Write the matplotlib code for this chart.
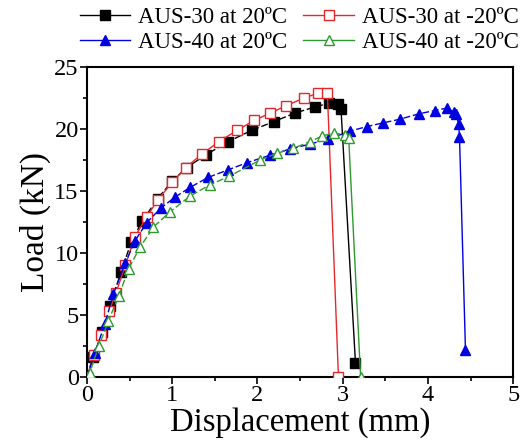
import numpy as np
import matplotlib
matplotlib.use('Agg')
import matplotlib.pyplot as plt
from matplotlib.lines import Line2D
from matplotlib.ticker import MultipleLocator

# AUS-30 at 20 C (black filled squares)
aus30_20_x = [0, 0.07, 0.18, 0.27, 0.40, 0.52, 0.65, 0.83, 1.00, 1.17, 1.40, 1.66, 1.93,
              2.19, 2.44, 2.68, 2.84, 2.95, 2.98, 3.15]
aus30_20_y = [0, 1.6, 3.6, 5.7, 8.5, 10.9, 12.6, 14.4, 15.8, 16.9, 17.95, 19.0, 19.9,
              20.6, 21.3, 21.8, 22.1, 22.05, 21.6, 1.1]

# AUS-30 at -20 C (red open squares)
aus30_m20_x = [0, 0.08, 0.17, 0.26, 0.34, 0.45, 0.56, 0.70, 0.83, 1.00, 1.16, 1.35, 1.55,
               1.76, 1.96, 2.15, 2.34, 2.54, 2.71, 2.82, 2.95]
aus30_m20_y = [0, 1.8, 3.4, 5.3, 6.8, 9.0, 11.3, 12.9, 14.3, 15.7, 16.9, 18.0, 19.0,
               19.9, 20.7, 21.3, 21.9, 22.5, 22.9, 22.95, 0]

# AUS-40 at 20 C (blue filled triangles)
aus40_20_x = [0, 0.09, 0.21, 0.31, 0.45, 0.56, 0.70, 0.87, 1.03, 1.21, 1.42, 1.65, 1.88,
              2.15, 2.38, 2.62, 2.83, 3.09, 3.28, 3.47, 3.67, 3.90, 4.08, 4.22, 4.30,
              4.33, 4.36, 4.37, 4.44]
aus40_20_y = [0, 1.9, 4.3, 6.7, 9.2, 10.95, 12.45, 13.65, 14.5, 15.3, 16.1, 16.7, 17.3,
              17.9, 18.4, 18.8, 19.2, 19.85, 20.2, 20.5, 20.8, 21.25, 21.5, 21.7, 21.4,
              21.2, 20.4, 19.4, 2.2]

# AUS-40 at -20 C (green open triangles)
aus40_m20_x = [0, 0.03, 0.14, 0.25, 0.37, 0.49, 0.62, 0.78, 0.97, 1.21, 1.44, 1.67, 2.03,
               2.23, 2.42, 2.62, 2.76, 2.90, 3.03, 3.07, 3.21]
aus40_m20_y = [0, 0.3, 2.5, 4.5, 6.5, 8.75, 10.45, 12.1, 13.3, 14.6, 15.5, 16.2, 17.5,
               18.05, 18.45, 19.0, 19.45, 19.7, 19.5, 19.3, 0]

labels = ['AUS-30 at 20ºC', 'AUS-30 at -20ºC', 'AUS-40 at 20ºC', 'AUS-40 at -20ºC']

plt.rcParams['font.family'] = ['Liberation Serif', 'DejaVu Serif']

fig = plt.figure(figsize=(5.21, 4.45), dpi=100)
ax = fig.add_axes([0.167, 0.153, 0.818, 0.696])

series = [
    (aus30_20_x, aus30_20_y, 'black', 's', 'black', (0, (5, 2)), 6.5),
    (aus30_m20_x, aus30_m20_y, '#e8262a', 's', 'white', '-', 6.5),
    (aus40_20_x, aus40_20_y, '#0000e0', '^', '#0000e0', (0, (5, 2)), 7.5),
    (aus40_m20_x, aus40_m20_y, '#2e9a2e', '^', 'white', (0, (5, 2)), 7.5),
]

handles = []
for i, ((x, y, c, mk, fc, ls, ms), lab) in enumerate(zip(series, labels)):
    z = 2 + i
    # loading branch dashed, final failure drop drawn solid, markers on top
    ax.plot(x[-2:], y[-2:], color=c, lw=1, ls='-', zorder=z)
    ax.plot(x[:-1], y[:-1], color=c, lw=1, ls=ls, zorder=z)
    ax.plot(x, y, color=c, lw=1, ls='none', marker=mk, ms=ms, mfc=fc, mec=c, mew=1,
            zorder=z + 0.5)
    handles.append(Line2D([], [], color=c, lw=1, marker=mk, ms=ms, mfc=fc, mec=c, mew=1))

ax.set_xlim(0, 5)
ax.set_ylim(0, 25)
ax.xaxis.set_major_locator(MultipleLocator(1))
ax.xaxis.set_minor_locator(MultipleLocator(0.5))
ax.yaxis.set_major_locator(MultipleLocator(5))
ax.yaxis.set_minor_locator(MultipleLocator(2.5))
ax.tick_params(which='major', direction='out', length=5, width=1.2, labelsize=17.5, pad=1)
ax.tick_params(which='minor', direction='out', length=3, width=1.2)
for s in ax.spines.values():
    s.set_linewidth(1.5)

ax.set_xlabel('Displacement (mm)', fontsize=23.5, labelpad=1)
ax.set_ylabel('Load (kN)', fontsize=24, labelpad=2)

# legend fills column-wise, so order handles to get AUS-30 on the first row
order = [0, 2, 1, 3]
fig.legend([handles[i] for i in order], [labels[i] for i in order],
           loc='upper right', bbox_to_anchor=(1.022, 1.015), ncol=2, frameon=False,
           fontsize=16.5, handlelength=2.2, handletextpad=0.35, columnspacing=0.7,
           labelspacing=0.15, borderaxespad=0.2)

fig.savefig('out.png', dpi=100)
